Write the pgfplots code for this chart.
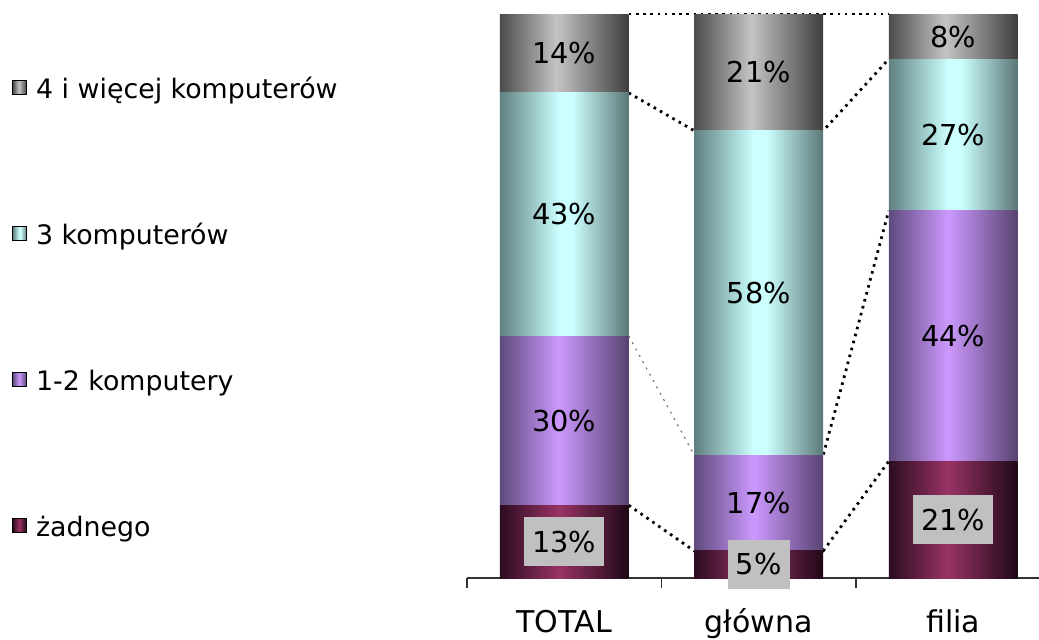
\documentclass[border=0pt]{standalone}
\usepackage{pgfplots}
\pgfplotsset{compat=1.18}
\usepackage{fontspec}
\setmainfont{DejaVu Sans}

\definecolor{gA}{HTML}{4C4C4C}\definecolor{gB}{HTML}{C4C4C4}\definecolor{gC}{HTML}{3E3E3E}
\definecolor{cA}{HTML}{5F8080}\definecolor{cB}{HTML}{CCFFFF}\definecolor{cC}{HTML}{5A7676}
\definecolor{pA}{HTML}{5E4A7C}\definecolor{pB}{HTML}{CC99FF}\definecolor{pC}{HTML}{574270}
\definecolor{mA}{HTML}{2C0C20}\definecolor{mB}{HTML}{993366}\definecolor{mC}{HTML}{1E0816}
\definecolor{lblbox}{HTML}{C0C0C0}

\pgfdeclarehorizontalshading{grayshade}{100bp}{color(0bp)=(gA); color(25bp)=(gA); color(47bp)=(gB); color(75bp)=(gC); color(100bp)=(gC)}
\pgfdeclarehorizontalshading{cyanshade}{100bp}{color(0bp)=(cA); color(25bp)=(cA); color(48bp)=(cB); color(53bp)=(cB); color(75bp)=(cC); color(100bp)=(cC)}
\pgfdeclarehorizontalshading{purpshade}{100bp}{color(0bp)=(pA); color(25bp)=(pA); color(48bp)=(pB); color(75bp)=(pC); color(100bp)=(pC)}
\pgfdeclarehorizontalshading{plumshade}{100bp}{color(0bp)=(mA); color(25bp)=(mA); color(48bp)=(mB); color(75bp)=(mC); color(100bp)=(mC)}

\pgfplotsset{
  base/.style={width=286pt, height=282pt, scale only axis,
    xmin=-0.5, xmax=2.441, ymin=0, ymax=100,
    at={(233.5pt,30.5pt)}, anchor=south west, clip=false},
  barax/.style={base, ybar stacked, bar width=0.663},
}

% data: share of each category, per group (TOTAL, główna, filia)
% żadnego, 1-2 komputery, 3 komputerów, 4 i więcej
\begin{document}
\begin{tikzpicture}
\path[use as bounding box] (0,0) rectangle (519.5pt,319.5pt);

% connecting series lines (drawn first, hidden behind bars)
\begin{axis}[base, hide axis]
\pgfplotsset{ser/.style={black, line width=1.4pt, dash pattern=on 1.3pt off 2.3pt},
  serthin/.style={black!55, line width=0.6pt, dash pattern=on 1pt off 2.6pt}}
\addplot[ser] coordinates {(0.3316,12.9) (0.6684,4.8) (1.3316,4.8) (1.6684,20.7)};
\addplot[serthin] coordinates {(0.3316,42.9) (0.6684,21.8)};
\addplot[ser] coordinates {(0.6684,21.8) (1.3316,21.8) (1.6684,65.1)};
\addplot[ser] coordinates {(0.3316,86.0) (0.6684,79.3) (1.3316,79.3) (1.6684,92.0)};
\addplot[ser] coordinates {(0.3316,100) (0.6684,100) (1.3316,100) (1.6684,100)};
\end{axis}

% stacked bars: TOTAL (with the x axis)
\begin{axis}[barax,
  axis x line*=bottom, hide y axis,
  axis line style={black!80, line width=0.9pt},
  xtick={0,1,2}, xticklabels={TOTAL, główna, filia},
  minor xtick={-0.5,0.5,1.5},
  major tick length=0pt, minor tick length=5pt, tick align=outside,
  tick style={black!80, line width=0.7pt},
  xticklabel style={font=\fontsize{15}{18}\selectfont, anchor=base, yshift=-27pt},
]
\addplot[draw=none, shade, shading=plumshade] coordinates {(0,12.9)};
\addplot[draw=none, shade, shading=purpshade] coordinates {(0,30.0)};
\addplot[draw=none, shade, shading=cyanshade] coordinates {(0,43.1)};
\addplot[draw=none, shade, shading=grayshade] coordinates {(0,14.0)};
\end{axis}

% stacked bars: główna
\begin{axis}[barax, hide axis]
\addplot[draw=none, shade, shading=plumshade] coordinates {(1,4.8)};
\addplot[draw=none, shade, shading=purpshade] coordinates {(1,17.0)};
\addplot[draw=none, shade, shading=cyanshade] coordinates {(1,57.5)};
\addplot[draw=none, shade, shading=grayshade] coordinates {(1,20.7)};
\end{axis}

% stacked bars: filia
\begin{axis}[barax, hide axis]
\addplot[draw=none, shade, shading=plumshade] coordinates {(2,20.7)};
\addplot[draw=none, shade, shading=purpshade] coordinates {(2,44.4)};
\addplot[draw=none, shade, shading=cyanshade] coordinates {(2,26.9)};
\addplot[draw=none, shade, shading=grayshade] coordinates {(2,8.0)};
\end{axis}

% value labels and legend
\begin{axis}[base, hide axis,
  legend image code/.code={\path[#1] (0pt,-3pt) rectangle (7pt,4pt);},
  legend style={at={(-0.7955,0.8900)}, anchor=north west, draw=none, fill=none,
    inner sep=0pt, row sep=61pt,
    font=\fontsize{13.4}{16}\selectfont,
    nodes={inner sep=0pt, text height=11pt, text depth=1pt},
    /tikz/every odd column/.append style={column sep=4.5pt}},
  legend cell align=left,
]
\addlegendimage{shade, shading=grayshade}
\addlegendentry{4 i więcej komputerów}
\addlegendimage{shade, shading=cyanshade}
\addlegendentry{3 komputerów}
\addlegendimage{shade, shading=purpshade}
\addlegendentry{1-2 komputery}
\addlegendimage{shade, shading=plumshade}
\addlegendentry{żadnego}

\addplot[draw=none, mark=none, nodes near coords, point meta=explicit symbolic,
  nodes near coords style={anchor=center, font=\fontsize{14.4}{17}\selectfont, inner sep=0pt, text=black}]
  coordinates {(0,27.9)[30\%] (0,64.45)[43\%] (0,93.0)[14\%]
               (1,13.3)[17\%] (1,50.55)[58\%] (1,89.65)[21\%]
               (2,42.9)[44\%] (2,78.55)[27\%] (2,96.0)[8\%]};
\addplot[draw=none, mark=none, nodes near coords, point meta=explicit symbolic,
  nodes near coords style={anchor=center, font=\fontsize{14.4}{17}\selectfont,
    fill=lblbox, inner xsep=4pt, inner ysep=0pt, minimum height=24.5pt, text=black}]
  coordinates {(0,6.45)[13\%] (1,2.4)[5\%] (2,10.35)[21\%]};
\end{axis}
\end{tikzpicture}
\end{document}
